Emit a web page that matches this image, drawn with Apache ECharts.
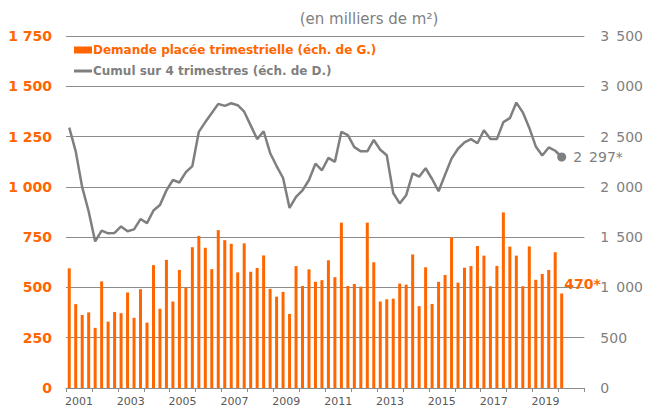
<!DOCTYPE html>
<html>
<head>
<meta charset="utf-8">
<script src="https://cdn.jsdelivr.net/npm/echarts@6/dist/echarts.min.js"></script>
<style>
  html, body { margin: 0; padding: 0; background: #fff; }
  #chart { width: 646px; height: 407px; }
</style>
</head>
<body>
<div id="chart"></div>
<script>
// trimestres : 2000 T3 -> 2019 T3 (les 3 derniers créneaux de l'axe restent vides)
var quarters = [];
for (var y = 2000; y <= 2020; y++) {
  for (var q = 1; q <= 4; q++) quarters.push(y + ' T' + q);
}
quarters = quarters.slice(2, 82);

// demande placée trimestrielle (milliers de m², éch. de G.)
var demande = [595,417,363,376,299,530,330,378,372,475,349,491,325,611,394,637,430,587,499,700,
  756,697,591,785,735,717,575,719,578,596,659,493,454,478,368,606,507,590,528,536,
  635,551,822,507,517,504,822,625,430,441,444,519,514,664,407,600,418,528,562,748,
  524,598,606,706,658,506,607,873,703,658,506,704,538,567,587,675,470];

// cumul sur 4 trimestres (éch. de D.)
var cumul = [2589,2353,1997,1755,1457,1564,1538,1542,1606,1558,1577,1680,1639,1765,1820,1965,2068,2043,2146,2207,
  2547,2644,2734,2825,2805,2831,2812,2747,2611,2475,2553,2337,2207,2088,1791,1900,1965,2068,2230,2165,
  2288,2249,2547,2514,2395,2353,2353,2466,2369,2314,1939,1835,1917,2135,2101,2185,2078,1956,2120,2281,
  2379,2443,2475,2434,2563,2475,2475,2644,2683,2838,2741,2586,2402,2311,2392,2359,2297];

// étiquettes d'années (placées au début de chaque année impaire)
var yearLabels = ['2001','2003','2005','2007','2009','2011','2013','2015','2017','2019'];

var ORANGE = '#FF6600';
var GRAY = '#7F7F7F';
var GRID = '#8C8C8C';
var FONT = 'DejaVu Sans';

function fmt(v, sep) {
  return String(v).replace(/\B(?=(\d{3})+(?!\d))/g, sep || ' ');
}

var last = demande.length - 1;
var barData = demande.map(function (v, i) {
  if (i !== last) return v;
  return { value: v, label: { show: true, position: [4, -16], formatter: '{c}*',
    color: ORANGE, fontWeight: 'bold', fontSize: 14, fontFamily: FONT } };
});
var lineData = cumul.map(function (v, i) {
  if (i !== last) return v;
  return { value: v,
    label: { show: true, position: 'right', distance: 7,
      formatter: function (p) { return fmt(p.value, '\u2002') + '*'; },
      color: GRAY, fontSize: 14, fontFamily: FONT } };
});

// rendu svg : les traits fins (grille, axe) sont bien tracés
var myChart = echarts.init(document.getElementById('chart'), null, { renderer: 'svg' });

var option = {
  animation: false,
  backgroundColor: '#fff',
  title: {
    text: '(en milliers de m²)',
    left: 364, textAlign: 'center', top: 6,
    textStyle: { color: GRAY, fontSize: 15, fontWeight: 'normal', fontFamily: FONT }
  },
  legend: {
    orient: 'vertical',
    left: 69, top: 39,
    itemWidth: 18, itemHeight: 7, itemGap: 9,
    textStyle: { fontFamily: FONT, fontWeight: 'bold', fontSize: 12, padding: [0, 0, 0, -4] },
    data: [
      { name: 'Demande placée trimestrielle (éch. de G.)', icon: 'rect', textStyle: { color: ORANGE } },
      { name: 'Cumul sur 4 trimestres (éch. de D.)', icon: 'path://M0 0H18V3H0Z', textStyle: { color: GRAY } }
    ]
  },
  grid: { left: 66, right: 58, top: 36, bottom: 11 },
  xAxis: {
    type: 'category',
    data: quarters,
    boundaryGap: true,
    axisLine: { show: true, onZero: false, lineStyle: { color: GRID, width: 1 } },
    axisTick: { show: true, interval: 3, length: 4, lineStyle: { color: GRID, width: 1 } },
    axisLabel: {
      margin: 8, color: '#595959', fontSize: 11, fontFamily: FONT,
      interval: function (i) { return (i - 2) % 8 === 0; },
      // l'année est centrée sur le début de l'année, pas sur le trimestre
      formatter: function (v, i) { return '{y|' + (yearLabels[(i - 2) / 8] || '') + '}'; },
      rich: { y: { padding: [0, 6.5, 0, 0], color: '#595959', fontSize: 11, fontFamily: FONT } }
    },
    splitLine: { show: false }
  },
  yAxis: [{
    type: 'value',
    min: 0, max: 1750, interval: 250,
    axisLine: { show: false },
    axisTick: { show: false },
    splitLine: { show: true, lineStyle: { color: GRID, width: 1, type: 'solid' } },
    axisLabel: { margin: 14, color: ORANGE, fontWeight: 'bold', fontSize: 14, fontFamily: FONT,
      formatter: function (v) { return fmt(v); } }
  }, {
    type: 'value',
    min: 0, max: 3500, interval: 500,
    axisLine: { show: false },
    axisTick: { show: false },
    splitLine: { show: false },
    axisLabel: { margin: 16, color: GRAY, fontSize: 14, fontFamily: FONT,
      formatter: function (v) { return fmt(v, '\u2002'); } }
  }],
  series: [{
    name: 'Demande placée trimestrielle (éch. de G.)',
    type: 'bar',
    barWidth: 3,
    itemStyle: { color: ORANGE },
    data: barData
  }, {
    name: 'Cumul sur 4 trimestres (éch. de D.)',
    type: 'line',
    yAxisIndex: 1,
    symbol: 'circle',
    showSymbol: true,
    symbolSize: function (v, p) { return p.dataIndex === last ? 9 : 0; },
    lineStyle: { color: GRAY, width: 2.5 },
    itemStyle: { color: GRAY },
    data: lineData
  }]
};

myChart.setOption(option);
</script>
</body>
</html>
